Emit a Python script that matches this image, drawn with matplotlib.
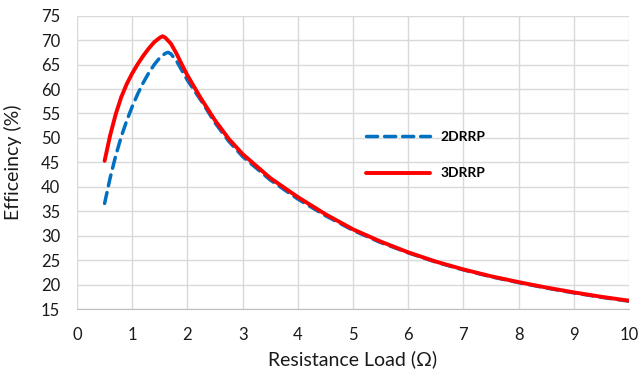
import matplotlib
matplotlib.use("Agg")
import matplotlib.pyplot as plt

x_2d = [0.5, 0.6, 0.7, 0.8, 0.9, 1.0, 1.1, 1.2, 1.3, 1.4, 1.5, 1.6, 1.65, 1.7, 1.8, 1.9, 2.0,
        2.25, 2.5, 2.75, 3.0, 3.5, 4.0, 4.5, 5.0, 5.5, 6.0, 6.5, 7.0, 7.5, 8.0, 8.5, 9.0, 9.5, 10.0]
y_2d = [36.6, 41.8, 46.3, 50.2, 53.5, 56.4, 59.0, 61.3, 63.3, 65.0, 66.4, 67.3, 67.5, 67.2, 65.8, 63.8, 61.8,
        57.6, 53.1, 49.3, 46.2, 41.4, 37.5, 34.1, 31.1, 28.6, 26.5, 24.6, 23.0, 21.6, 20.4, 19.3, 18.3, 17.4, 16.6]

x_3d = [0.5, 0.6, 0.7, 0.8, 0.9, 1.0, 1.1, 1.2, 1.3, 1.4, 1.5, 1.55, 1.6, 1.7, 1.8, 1.9, 2.0,
        2.25, 2.5, 2.75, 3.0, 3.5, 4.0, 4.5, 5.0, 5.5, 6.0, 6.5, 7.0, 7.5, 8.0, 8.5, 9.0, 9.5, 10.0]
y_3d = [45.3, 50.5, 54.8, 58.3, 61.0, 63.2, 65.1, 66.8, 68.3, 69.6, 70.5, 70.8, 70.5, 69.3, 67.3, 65.0, 62.8,
        58.0, 53.6, 49.8, 46.7, 41.8, 37.9, 34.4, 31.3, 28.8, 26.6, 24.7, 23.1, 21.7, 20.5, 19.4, 18.4, 17.5, 16.7]

labels = ["2DRRP", "3DRRP"]
x_ticks = list(range(0, 11))
y_ticks = list(range(15, 80, 5))

plt.rcParams['font.family'] = ['Lato', 'DejaVu Sans']

fig = plt.figure(figsize=(6.39, 3.76), dpi=100)
ax = fig.add_axes([77/639, 1-309/376, (629-77)/639, (309-15.7)/376])

ax.plot(x_2d, y_2d, color='#0070C0', lw=2.5, dashes=(3.2, 2.0), dash_capstyle='round', label=labels[0], zorder=3)
ax.plot(x_3d, y_3d, color='#FF0000', lw=2.8, solid_capstyle='round', label=labels[1], zorder=4)

ax.set_xlim(0, 10)
ax.set_ylim(15, 75)
ax.set_xticks(x_ticks)
ax.set_yticks(y_ticks)
ax.grid(True, color='#d9d9d9', lw=1.0)
ax.set_axisbelow(True)
for s in ['top', 'right', 'left']:
    ax.spines[s].set_visible(False)
ax.spines['bottom'].set_color('#bfbfbf')
ax.tick_params(length=0, labelsize=12, colors='#1a1a1a')
ax.tick_params(axis='x', pad=13)
ax.tick_params(axis='y', pad=12)
ax.set_xlabel('Resistance Load (Ω)', fontsize=14, labelpad=5, color='#1a1a1a')
ax.set_ylabel('Efficeincy (%)', fontsize=14, labelpad=14, color='#1a1a1a')

leg = ax.legend(loc='center left', bbox_to_anchor=(0.501, 0.525), frameon=False,
                prop={'weight': 'bold', 'size': 10}, handlelength=4.6, labelspacing=1.79,
                handletextpad=0.75)

fig.savefig('out.png', dpi=100)
